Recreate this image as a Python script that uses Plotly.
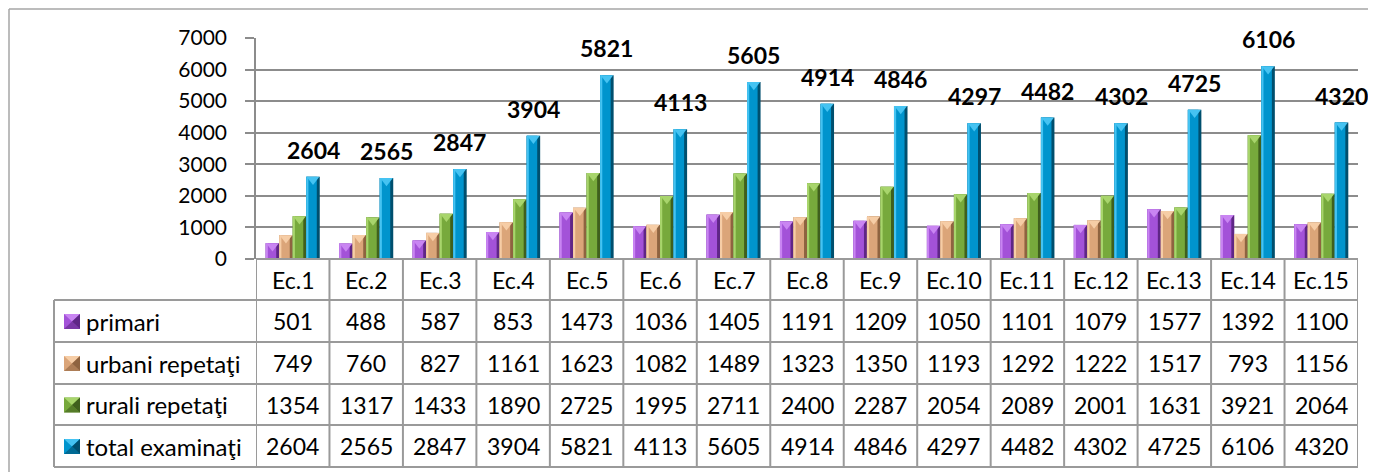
import plotly.graph_objects as go

categories = ["Ec.1", "Ec.2", "Ec.3", "Ec.4", "Ec.5", "Ec.6", "Ec.7", "Ec.8",
              "Ec.9", "Ec.10", "Ec.11", "Ec.12", "Ec.13", "Ec.14", "Ec.15"]
series_names = ["primari", "urbani repetaţi", "rurali repetaţi", "total examinaţi"]
primari = [501, 488, 587, 853, 1473, 1036, 1405, 1191, 1209, 1050, 1101, 1079, 1577, 1392, 1100]
urbani = [749, 760, 827, 1161, 1623, 1082, 1489, 1323, 1350, 1193, 1292, 1222, 1517, 793, 1156]
rurali = [1354, 1317, 1433, 1890, 2725, 1995, 2711, 2400, 2287, 2054, 2089, 2001, 1631, 3921, 2064]
total = [2604, 2565, 2847, 3904, 5821, 4113, 5605, 4914, 4846, 4297, 4482, 4302, 4725, 6106, 4320]
y_ticks = [0, 1000, 2000, 3000, 4000, 5000, 6000, 7000]

series = [primari, urbani, rurali, total]
# (light, main, dark)
palette = [("#c985f2", "#a352d8", "#5f2686"),
           ("#f6cda6", "#dba579", "#8e6340"),
           ("#a8d56c", "#77a93c", "#3f5f1d"),
           ("#45c3f2", "#0094cd", "#004f6e")]

# page body has an 8px margin: work in figure coordinates = screen - 8
OFF = 8
W, H = 1376, 472
L = 256 - OFF
T = 38 - OFF
RIGHT = 1358 - OFF
ZERO_PY = 259 - OFF
R = W - RIGHT
B = H - ZERO_PY
PW = RIGHT - L
PH = ZERO_PY - T
YMAX = 7000

def xp(px):
    return (px - OFF - L) / PW

def yp(py):
    return (ZERO_PY - (py - OFF)) / PH

FONT = "Lato, Carlito, Calibri, sans-serif"
GRID = "#8c8c8c"
TABLE = "#9a9a9a"

n = len(categories)
idx = list(range(n))
bw = 0.184
start = -2 * bw
TRI = 11  # marker size of pyramid tops
tri_drop = (TRI / 4) * YMAX / PH

fig = go.Figure()
for s, (vals, cols) in enumerate(zip(series, palette)):
    off = start + s * bw
    light, main, dark = cols
    fig.add_trace(go.Bar(x=idx, y=vals, offset=off, width=bw,
                         marker=dict(color=dark, line=dict(width=0)),
                         showlegend=False, hoverinfo="skip"))
    fig.add_trace(go.Bar(x=idx, y=vals, offset=off, width=bw * 0.78,
                         marker=dict(color=main, line=dict(width=0)),
                         showlegend=False, hoverinfo="skip"))
    fig.add_trace(go.Bar(x=idx, y=vals, offset=off, width=bw * 0.16,
                         marker=dict(color=light, line=dict(width=0)),
                         showlegend=False, hoverinfo="skip"))
    fig.add_trace(go.Scatter(x=[i + off + bw / 2 for i in idx],
                             y=[v - tri_drop for v in vals], mode="markers",
                             marker=dict(symbol="triangle-down", size=TRI, color=light,
                                         line=dict(width=0)),
                             showlegend=False, hoverinfo="skip", cliponaxis=False))

annotations = []
shapes = []

# value labels over total bars
blue_center = start + 3 * bw + bw / 2
for i, v in enumerate(total):
    annotations.append(dict(x=i + blue_center, y=v, xref="x", yref="y",
                            text="<b>%d</b>" % v, showarrow=False,
                            xanchor="center", yanchor="middle",
                            yshift=27, font=dict(family=FONT, size=23, color="black")))

# chart area border (top and left)
shapes.append(dict(type="line", xref="paper", yref="paper",
                   x0=xp(9), x1=xp(W + 20), y0=yp(9), y1=yp(9),
                   line=dict(color="#a6a6a6", width=1.5)))
shapes.append(dict(type="line", xref="paper", yref="paper",
                   x0=xp(9), x1=xp(9), y0=yp(9), y1=yp(H + 20),
                   line=dict(color="#a6a6a6", width=1.5)))

# table geometry (reference pixel rows)
row_edges = [259, 300, 342, 384, 425, 467]
table_left = 54
for k, py in enumerate(row_edges):
    x0 = xp(table_left) if k >= 1 else 0
    shapes.append(dict(type="line", xref="paper", yref="paper",
                       x0=x0, x1=1, y0=yp(py), y1=yp(py),
                       line=dict(color=TABLE, width=2)))
shapes.append(dict(type="line", xref="paper", yref="paper",
                   x0=xp(table_left), x1=xp(table_left), y0=yp(300), y1=yp(467),
                   line=dict(color=TABLE, width=2)))
for k in range(n + 1):
    shapes.append(dict(type="line", xref="x", yref="paper",
                       x0=k - 0.5, x1=k - 0.5, y0=yp(259), y1=yp(467),
                       line=dict(color=TABLE, width=2)))

num_font = dict(family=FONT, size=23, color="black")
lab_font = dict(family=FONT, size=24, color="black")

# header labels
hy = (259 + 300) / 2
for i, c in enumerate(categories):
    annotations.append(dict(x=i, y=yp(hy), xref="x", yref="paper", text=c,
                            xanchor="center", yanchor="middle",
                            showarrow=False, font=num_font))

def P(px, py):
    return "%f,%f" % (xp(px), yp(py))

for r, (name, vals, cols) in enumerate(zip(series_names, series, palette)):
    cy = (row_edges[r + 1] + row_edges[r + 2]) / 2
    annotations.append(dict(x=xp(84), y=yp(cy), xref="paper", yref="paper", text=name,
                            xanchor="left", yanchor="middle", showarrow=False,
                            font=lab_font))
    for i, v in enumerate(vals):
        annotations.append(dict(x=i, y=yp(cy), xref="x", yref="paper", text=str(v),
                                xanchor="center", yanchor="middle",
                                showarrow=False, font=num_font))
    light, main, dark = cols
    kx0, kx1 = 64, 80
    ky0, ky1 = cy - 7, cy + 8
    kxc, kyc = (kx0 + kx1) / 2, (ky0 + ky1) / 2
    shapes.append(dict(type="rect", xref="paper", yref="paper",
                       x0=xp(kx0), x1=xp(kx1), y0=yp(ky1), y1=yp(ky0),
                       fillcolor=main, line=dict(width=0)))
    shapes.append(dict(type="path", xref="paper", yref="paper",
                       path="M%s L%s L%s Z" % (P(kx0, ky0), P(kx1, ky0), P(kxc, kyc)),
                       fillcolor=light, line=dict(width=0)))
    shapes.append(dict(type="path", xref="paper", yref="paper",
                       path="M%s L%s L%s Z" % (P(kx1, ky0), P(kx1, ky1), P(kxc, kyc)),
                       fillcolor=dark, line=dict(width=0)))
    shapes.append(dict(type="path", xref="paper", yref="paper",
                       path="M%s L%s L%s Z" % (P(kx0, ky1), P(kx1, ky1), P(kxc, kyc)),
                       fillcolor=dark, line=dict(width=0), opacity=0.6))

fig.update_layout(
    width=W, height=H,
    margin=dict(l=L, r=R, t=T, b=B, pad=0),
    barmode="overlay",
    plot_bgcolor="white", paper_bgcolor="white",
    showlegend=False,
    xaxis=dict(range=[-0.5, n - 0.5], showticklabels=False, showgrid=False,
               zeroline=False, showline=False, ticks=""),
    yaxis=dict(range=[0, YMAX], tickvals=y_ticks, showgrid=True, gridcolor=GRID,
               gridwidth=1.5, zeroline=False, showline=True, linecolor=GRID, linewidth=1.5,
               ticks="outside", ticklen=9, tickcolor=GRID, tickwidth=1.5,
               ticklabelstandoff=14,
               tickfont=dict(family=FONT, size=21, color="black")),
    annotations=annotations,
    shapes=shapes,
)

fig.write_html("out.html")
